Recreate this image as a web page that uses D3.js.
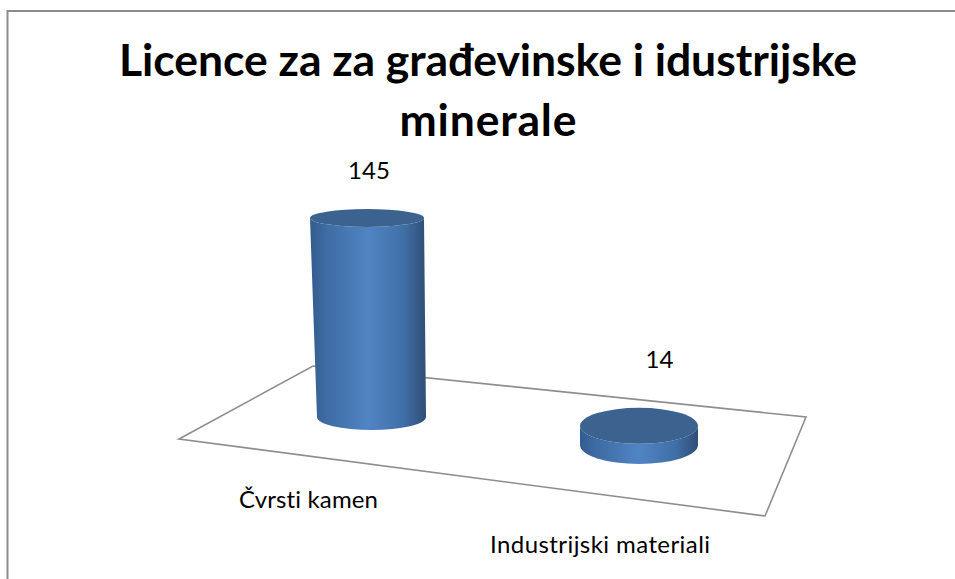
<!DOCTYPE html>
<html>

<head>
    <meta charset="utf-8">
    <style>
        body {
            margin: 0;
            background: #fff;
        }

        svg {
            display: block;
            font-family: Lato, 'Open Sans', sans-serif;
            font-variant-ligatures: none;
        }

        .title {
            font-size: 44.5px;
            font-weight: 700;
            fill: #000;
            text-anchor: middle;
        }

        .lab {
            font-size: 24px;
            fill: #000;
            text-anchor: middle;
        }
    </style>
</head>

<body>
    <svg width="955" height="579"></svg>
</body>

<script src="https://d3js.org/d3.v7.min.js"></script>

<script>
    let categories = ["Čvrsti kamen", "Industrijski materiali"];
    let values = [145, 14];
    let titleLines = ["Licence za za građevinske i idustrijske", "minerale"];

    let svg = d3.select("svg");

    // perspective of the fake 3d scene
    let x = d3.scalePoint().domain(categories).range([371.5, 639]);
    let yBase = d3.scalePoint().domain(categories).range([417, 445]);
    let h = d3.scaleLinear().domain([0, 145]).range([0, 199]);

    let shape = d3.scaleOrdinal().domain(categories).range([
        { rxBase: 54.5, ryBase: 13, rxTop: 57, ryTop: 9, dxTop: -4.5, labelDx: -2.5, labelDy: -39, catX: 308.5, catY: 508, catW: 139 },
        { rxBase: 59, ryBase: 19, rxTop: 59, ryTop: 18, dxTop: 0, labelDx: 20.5, labelDy: -58, catX: 600, catY: 552.5, catW: 220 }
    ]);

    let defs = svg.append("defs");
    let grad = defs.append("linearGradient").attr("id", "side");
    grad.selectAll("stop")
        .data([[0, "#335c8e"], [0.14, "#3e6ca3"], [0.5, "#5184c4"], [0.8, "#4170a8"], [1, "#2f4f76"]])
        .join("stop")
        .attr("offset", d => d[0])
        .attr("stop-color", d => d[1]);

    // outer frame, only top and left are visible
    svg.append("path")
        .attr("d", "M955,11 L7.5,11 L7.5,579")
        .attr("fill", "none")
        .attr("stroke", "#8c8c8c")
        .attr("stroke-width", 2);

    // floor
    svg.append("path")
        .attr("d", d3.line()([[179, 439], [313, 366], [806, 417], [765, 516]]) + "Z")
        .attr("fill", "none")
        .attr("stroke", "#8e8e8e")
        .attr("stroke-width", 1.6);

    let bars = svg.selectAll(".bar")
        .data(categories)
        .join("g")
        .attr("class", "bar");

    bars.append("path")
        .attr("fill", "url(#side)")
        .attr("d", (d, i) => {
            let s = shape(d);
            let cx = x(d), y0 = yBase(d), y1 = y0 - h(values[i]);
            let tx = cx + s.dxTop;
            return `M${tx - s.rxTop},${y1} L${cx - s.rxBase},${y0}`
                + ` A${s.rxBase},${s.ryBase} 0 0 0 ${cx + s.rxBase},${y0}`
                + ` L${tx + s.rxTop},${y1}`
                + ` A${s.rxTop},${s.ryTop} 0 0 1 ${tx - s.rxTop},${y1} Z`;
        });

    bars.append("ellipse")
        .attr("fill", "#3c6390")
        .attr("cx", d => x(d) + shape(d).dxTop)
        .attr("cy", (d, i) => yBase(d) - h(values[i]))
        .attr("rx", d => shape(d).rxTop)
        .attr("ry", d => shape(d).ryTop);

    bars.append("text")
        .attr("class", "lab")
        .attr("x", d => x(d) + shape(d).labelDx)
        .attr("y", (d, i) => yBase(d) - h(values[i]) + shape(d).labelDy)
        .text((d, i) => values[i]);

    svg.selectAll(".cat")
        .data(categories)
        .join("text")
        .attr("class", "lab cat")
        .attr("x", d => shape(d).catX)
        .attr("y", d => shape(d).catY)
        .attr("textLength", d => shape(d).catW)
        .text(d => d);

    let titleWidths = [738, 177];

    svg.selectAll(".title")
        .data(titleLines)
        .join("text")
        .attr("class", "title")
        .attr("x", 488)
        .attr("y", (d, i) => 76 + i * 60)
        .attr("textLength", (d, i) => titleWidths[i])
        .text(d => d);
</script>

</html>
